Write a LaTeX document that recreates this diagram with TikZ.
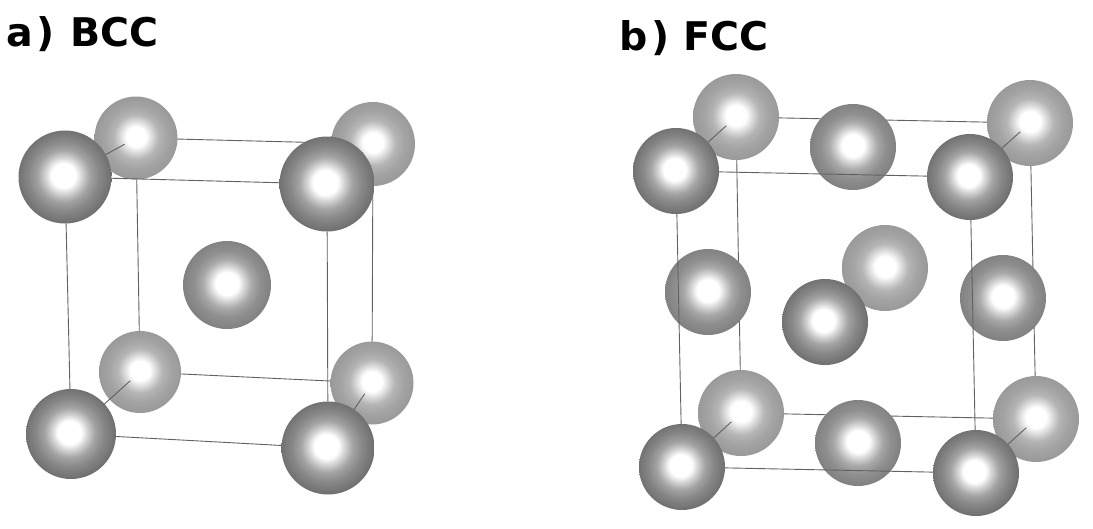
\documentclass[tikz,border=0pt]{standalone}
\usepackage{fontspec}
\setmainfont{DejaVu Sans}
\pgfdeclarelayer{backballs}
\pgfdeclarelayer{backedges}
\pgfdeclarelayer{midballs}
\pgfdeclarelayer{frontedges}
\pgfsetlayers{backballs,backedges,midballs,frontedges,main}
\pgfdeclareradialshading{ballfront}{\pgfpoint{-1bp}{1bp}}{color(0bp)=(white);color(6.5bp)=(white);color(10bp)=(black!18);color(14bp)=(black!36);color(19bp)=(black!47);color(27bp)=(black!59);color(33bp)=(black!68);color(35.4bp)=(black!76);color(50bp)=(black!76)}
\pgfdeclareradialshading{ballmid}{\pgfpoint{0bp}{1bp}}{color(0bp)=(white);color(6.5bp)=(white);color(10bp)=(black!17);color(14bp)=(black!34);color(19bp)=(black!44);color(28bp)=(black!52);color(33bp)=(black!60);color(35.4bp)=(black!66);color(50bp)=(black!66)}
\pgfdeclareradialshading{ballback}{\pgfpoint{0bp}{1bp}}{color(0bp)=(white);color(6bp)=(white);color(9.5bp)=(black!14);color(13.5bp)=(black!29);color(19bp)=(black!36);color(30bp)=(black!43);color(35.4bp)=(black!50);color(50bp)=(black!50)}
\tikzset{
  x=1pt,y=-1pt,
  ball/.style={circle,shade,inner sep=0pt,outer sep=0pt,minimum size=#1},
  front/.style={ball=#1,shading=ballfront},
  mid/.style={ball=#1,shading=ballmid},
  back/.style={ball=#1,shading=ballback},
  edge/.style={draw=black!62,line width=0.9pt},
  depth/.style={edge,shorten >=13pt},
  title/.style={font=\bfseries\fontsize{39.5}{41}\selectfont,anchor=base west,inner sep=0pt,text=black}
}
\begin{document}
\begin{tikzpicture}
\path[use as bounding box] (0,0) rectangle (1093,528);
\node[title] (ta) at (6,46) {a\kern4pt)\kern1.5pt{} BCC};
\node[title] (tb) at (619,50) {b\kern4pt)\kern0.5pt{} FCC};
% BCC
\begin{pgfonlayer}{backballs}
\node[back=83pt] (a5) at (136,138) {};
\node[back=84pt] (a6) at (373,144) {};
\node[back=82pt] (a7) at (140,372) {};
\node[back=83pt] (a8) at (372,383) {};
\end{pgfonlayer}
\begin{pgfonlayer}{midballs}
\node[mid=88pt] (ac) at (227,285) {};
\end{pgfonlayer}
\node[front=93pt] (a1) at (65,177) {};
\node[front=95pt] (a2) at (327,184) {};
\node[front=90pt] (a3) at (71,434) {};
\node[front=93pt] (a4) at (328,448) {};
\begin{pgfonlayer}{backedges}
\draw[edge] (a5)--(a6);
\draw[edge] (a6)--(a8);
\draw[edge] (a8)--(a7);
\draw[edge] (a7)--(a5);
\end{pgfonlayer}
\begin{pgfonlayer}{frontedges}
\draw[edge] (a1)--(a2);
\draw[edge] (a2)--(a4);
\draw[edge] (a4)--(a3);
\draw[edge] (a3)--(a1);
\draw[depth] (a1.center)--(a5.center);
\draw[depth] (a2.center)--(a6.center);
\draw[depth] (a3.center)--(a7.center);
\draw[depth] (a4.center)--(a8.center);
\end{pgfonlayer}
% FCC
\begin{pgfonlayer}{backballs}
\node[back=86pt] (b5) at (736,117) {};
\node[back=86pt] (b6) at (1030,123) {};
\node[back=86pt] (b7) at (741,413) {};
\node[back=86pt] (b8) at (1036,419) {};
\end{pgfonlayer}
\begin{pgfonlayer}{midballs}
\node[mid=86pt] (bt) at (853,147) {};
\node[mid=86pt] (bb) at (858,443) {};
\node[mid=86pt] (bl) at (708,292) {};
\node[mid=86pt] (br) at (1003,298) {};
\node[back=86pt] (bk) at (885,268) {};
\node[front=86pt] (bf) at (825,322) {};
\end{pgfonlayer}
\node[front=86pt] (b1) at (676,171) {};
\node[front=86pt] (b2) at (970,177) {};
\node[front=86pt] (b3) at (682,467) {};
\node[front=86pt] (b4) at (976,473) {};
\begin{pgfonlayer}{backedges}
\draw[edge] (b5)--(b6);
\draw[edge] (b6)--(b8);
\draw[edge] (b8)--(b7);
\draw[edge] (b7)--(b5);
\end{pgfonlayer}
\begin{pgfonlayer}{frontedges}
\draw[edge] (b1)--(b2);
\draw[edge] (b2)--(b4);
\draw[edge] (b4)--(b3);
\draw[edge] (b3)--(b1);
\draw[depth] (b1.center)--(b5.center);
\draw[depth] (b2.center)--(b6.center);
\draw[depth] (b3.center)--(b7.center);
\draw[depth] (b4.center)--(b8.center);
\end{pgfonlayer}
\end{tikzpicture}
\end{document}
